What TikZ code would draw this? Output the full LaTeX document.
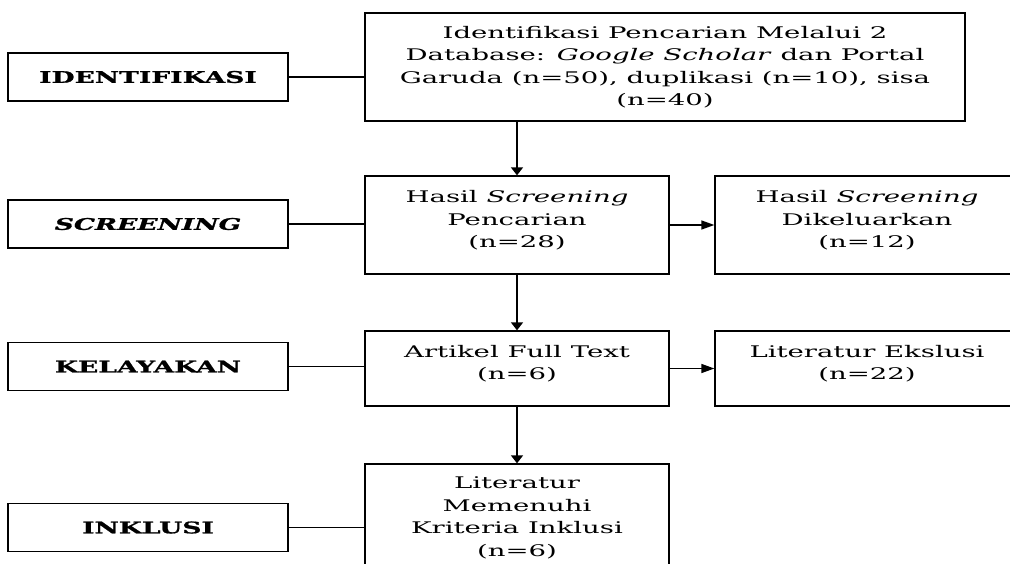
\documentclass[tikz,border=0pt]{standalone}
\usepackage{fontspec}
\setmainfont{DejaVu Serif}[FakeStretch=1.72]
\newfontfamily\labfont{DejaVu Serif}[FakeStretch=1.66, BoldFeatures={FakeBold=1.2}, BoldItalicFeatures={FakeBold=1.2}]
\usetikzlibrary{arrows.meta}
\newcommand{\liftup}{\rule[-12pt]{0pt}{0pt}}
\tikzset{
  lab/.style={draw, line width=1.3pt, minimum width=280pt, minimum height=48pt, inner sep=0pt,
    font=\labfont\fontsize{16}{18}\selectfont\bfseries},
  box/.style={draw, line width=1.3pt, inner sep=0pt, align=center, minimum width=304pt,
    font=\fontsize{16}{22.5}\selectfont},
  link/.style={line width=1.4pt},
  arrv/.style={line width=1.4pt, -{Triangle[length=8pt,width=12pt]}},
  arrh/.style={line width=1.4pt, -{Triangle[length=13pt,width=9pt]}},
}
\begin{document}
\begin{tikzpicture}[x=1pt,y=-1pt]
\useasboundingbox[fill=white] (0,0) rectangle (1010,563);
% phase labels
\node[lab] (l1) at (148,77) {IDENTIFIKASI};
\node[lab] (l2) at (148,224) {\itshape SCREENING};
\node[lab] (l3) at (148,366.5) {KELAYAKAN};
\node[lab] (l4) at (148,527.5) {INKLUSI};
% main column
\node[box, minimum width=600pt, minimum height=108pt] (top) at (665,67)
  {Identifikasi Pencarian Melalui 2\\Database: \textit{Google Scholar} dan Portal\\Garuda (n=50), duplikasi (n=10), sisa\\(n=40)};
\node[box, minimum height=98pt] (b2) at (517,225)
  {Hasil \textit{Screening}\\Pencarian\\(n=28)\liftup};
\node[box, minimum height=98pt] (r2) at (867,225)
  {Hasil \textit{Screening}\\Dikeluarkan\\(n=12)\liftup};
\node[box, minimum height=75pt] (b3) at (517,368.5)
  {Artikel Full Text\\(n=6)\liftup};
\node[box, minimum height=75pt] (r3) at (867,368.5)
  {Literatur Ekslusi\\(n=22)\liftup};
\node[box, minimum height=108pt] (b4) at (517,518)
  {Literatur\\Memenuhi\\Kriteria Inklusi\\(n=6)};
% connectors
\draw[link] (l1.east) -- (l1.east -| top.west);
\draw[link] (l2.east) -- (l2.east -| b2.west);
\draw[link] (l3.east) -- (l3.east -| b3.west);
\draw[link] (l4.east) -- (l4.east -| b4.west);
\draw[arrv] (top.south -| b2.north) -- (b2.north);
\draw[arrv] (b2.south) -- (b3.north);
\draw[arrv] (b3.south) -- (b4.north);
\draw[arrh] (b2.east) -- (r2.west);
\draw[arrh] (b3.east) -- (r3.west);
\end{tikzpicture}
\end{document}
